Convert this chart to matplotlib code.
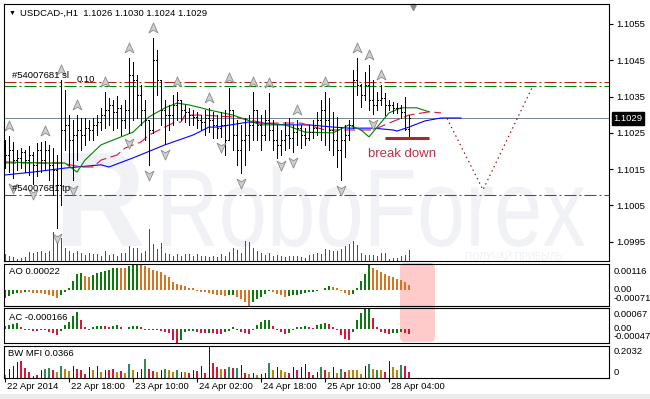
import numpy as np
import matplotlib
matplotlib.use('Agg')
import matplotlib.pyplot as plt
from matplotlib.patches import FancyBboxPatch, Rectangle, PathPatch
from matplotlib.path import Path
from matplotlib.textpath import TextPath
from matplotlib.font_manager import FontProperties
from matplotlib.transforms import Affine2D, IdentityTransform, offset_copy, blended_transform_factory

plt.rcParams['font.family'] = ['Liberation Sans', 'DejaVu Sans']

# ---- price bars (USDCAD H1) ----
first_open = 1.10200
highs = [
    1.10230, 1.10241, 1.10225, 1.10203, 1.10208, 1.10203, 1.10214, 1.10197, 1.10222, 1.10225,
    1.10228, 1.10217, 1.10208, 1.10189, 1.10396, 1.10368, 1.10299, 1.10286, 1.10299, 1.10291,
    1.10291, 1.10286, 1.10291, 1.10299, 1.10319, 1.10363, 1.10346, 1.10341, 1.10352, 1.10327,
    1.10341, 1.10456, 1.10445, 1.10410, 1.10382, 1.10341, 1.10286, 1.10511, 1.10478, 1.10396,
    1.10341, 1.10327, 1.10354, 1.10363, 1.10341, 1.10327, 1.10319, 1.10313, 1.10308, 1.10299,
    1.10313, 1.10319, 1.10308, 1.10299, 1.10308, 1.10313, 1.10374, 1.10313, 1.10286, 1.10272,
    1.10291, 1.10299, 1.10363, 1.10313, 1.10299, 1.10313, 1.10360, 1.10286, 1.10272, 1.10258,
    1.10280, 1.10291, 1.10272, 1.10286, 1.10272, 1.10263, 1.10272, 1.10286, 1.10308, 1.10341,
    1.10363, 1.10346, 1.10308, 1.10294, 1.10266, 1.10272, 1.10286, 1.10423, 1.10456, 1.10385,
    1.10418, 1.10437, 1.10396, 1.10363, 1.10382, 1.10360, 1.10341, 1.10335, 1.10332, 1.10327,
    1.10349, 1.10300]
lows = [
    1.10153, 1.10142, 1.10126, 1.10148, 1.10153, 1.10142, 1.10134, 1.10109, 1.10131, 1.10142,
    1.10148, 1.10120, 1.10079, 1.09988, 1.10051, 1.10203, 1.10162, 1.10120, 1.10175, 1.10203,
    1.10217, 1.10230, 1.10230, 1.10244, 1.10258, 1.10263, 1.10272, 1.10258, 1.10263, 1.10244,
    1.10263, 1.10250, 1.10286, 1.10291, 1.10272, 1.10230, 1.10162, 1.10250, 1.10354, 1.10272,
    1.10219, 1.10258, 1.10272, 1.10286, 1.10286, 1.10280, 1.10272, 1.10272, 1.10263, 1.10258,
    1.10244, 1.10252, 1.10236, 1.10236, 1.10239, 1.10189, 1.10230, 1.10203, 1.10162, 1.10140,
    1.10162, 1.10203, 1.10230, 1.10230, 1.10203, 1.10230, 1.10230, 1.10203, 1.10181, 1.10189,
    1.10203, 1.10208, 1.10197, 1.10217, 1.10208, 1.10217, 1.10230, 1.10236, 1.10244, 1.10230,
    1.10217, 1.10203, 1.10189, 1.10156, 1.10120, 1.10184, 1.10230, 1.10263, 1.10354, 1.10321,
    1.10341, 1.10313, 1.10302, 1.10313, 1.10327, 1.10299, 1.10313, 1.10305, 1.10305, 1.10291,
    1.10258, 1.10240]
closes = [
    1.10189, 1.10203, 1.10175, 1.10181, 1.10197, 1.10175, 1.10189, 1.10162, 1.10203, 1.10175,
    1.10203, 1.10162, 1.10148, 1.10106, 1.10258, 1.10272, 1.10230, 1.10244, 1.10258, 1.10244,
    1.10263, 1.10258, 1.10272, 1.10280, 1.10299, 1.10313, 1.10327, 1.10308, 1.10319, 1.10286,
    1.10313, 1.10410, 1.10396, 1.10354, 1.10313, 1.10286, 1.10258, 1.10451, 1.10396, 1.10313,
    1.10299, 1.10299, 1.10327, 1.10341, 1.10313, 1.10308, 1.10299, 1.10294, 1.10286, 1.10280,
    1.10291, 1.10286, 1.10272, 1.10263, 1.10272, 1.10230, 1.10313, 1.10244, 1.10203, 1.10230,
    1.10244, 1.10272, 1.10313, 1.10272, 1.10244, 1.10286, 1.10258, 1.10230, 1.10217, 1.10230,
    1.10244, 1.10236, 1.10252, 1.10263, 1.10244, 1.10236, 1.10252, 1.10263, 1.10286, 1.10313,
    1.10286, 1.10258, 1.10230, 1.10203, 1.10230, 1.10244, 1.10272, 1.10396, 1.10382, 1.10354,
    1.10382, 1.10341, 1.10327, 1.10341, 1.10346, 1.10327, 1.10327, 1.10319, 1.10319, 1.10308,
    1.10260, 1.10290]
volumes = [
    700, 500, 400, 200, 300, 400, 900, 800, 900, 1000,
    800, 1000, 2900, 1800, 2300, 1300, 1000, 800, 1000, 800,
    600, 800, 700, 700, 500, 1000, 600, 700, 500, 800,
    800, 1500, 1300, 1300, 800, 1000, 3200, 1700, 1200, 1800,
    800, 700, 500, 700, 500, 700, 700, 500, 700, 500,
    500, 400, 500, 400, 700, 500, 900, 1300, 1100, 800,
    2000, 1900, 1300, 1000, 800, 600, 800, 500, 600, 500,
    400, 500, 500, 500, 400, 300, 600, 700, 800, 700,
    1200, 1100, 1000, 1000, 1200, 1500, 1700, 2000, 1600, 800,
    600, 600, 600, 500, 800, 800, 200, 300, 300, 500,
    600, 1100]

# alligator lines (bar index, price)
lips_idx = [0, 9, 15, 18, 20, 24, 32, 36, 40, 43, 46, 49, 51, 57, 64, 70, 75, 82, 86, 89, 91, 96, 99, 103, 106]
lips_val = [1.10170, 1.10167, 1.10167, 1.10142, 1.10175, 1.10217, 1.10252, 1.10294, 1.10319, 1.10332,
            1.10327, 1.10319, 1.10313, 1.10299, 1.10272, 1.10272, 1.10252, 1.10250, 1.10272, 1.10258,
            1.10239, 1.10305, 1.10319, 1.10319, 1.10308]
teeth_idx = [0, 14, 19, 22, 24, 28, 30, 34, 36, 40, 42, 44, 45, 49, 57, 65, 74, 80, 86, 92, 96, 101, 106, 109]
teeth_val = [1.10167, 1.10167, 1.10156, 1.10156, 1.10175, 1.10189, 1.10208, 1.10225, 1.10244, 1.10266,
             1.10277, 1.10280, 1.10299, 1.10299, 1.10294, 1.10277, 1.10277, 1.10258, 1.10258, 1.10258,
             1.10277, 1.10299, 1.10308, 1.10305]
jaw_idx = [0, 7, 15, 24, 26, 32, 40, 47, 51, 53, 61, 70, 76, 82, 86, 92, 97, 98, 101, 105, 109, 114]
jaw_val = [1.10134, 1.10142, 1.10153, 1.10162, 1.10156, 1.10181, 1.10217, 1.10244, 1.10266, 1.10266,
           1.10280, 1.10272, 1.10272, 1.10266, 1.10263, 1.10263, 1.10258, 1.10255, 1.10266, 1.10283,
           1.10291, 1.10291]

fractal_up = [1, 10, 14, 18, 25, 31, 37, 43, 51, 56, 62, 66, 73, 80, 88, 91, 94]
fractal_down = [2, 7, 13, 17, 31, 36, 40, 54, 59, 69, 72, 84, 92]

sl_level = 1.10390
sell_level = 1.10380
tp_level = 1.10079
current_price = 1.1029
break_level = 1.10236
break_span = [95, 106]
proj_idx = [110.5, 119.5, 132]
proj_val = [1.10290, 1.10093, 1.10380]

# ---- indicators ----
ao = [
    -0.00037, -0.00028, -0.00019, -0.00014, -0.00015, -0.00009, -0.00012, -0.00014, -0.00015, -0.00016,
    -0.00019, -0.00023, -0.00028, -0.00037, -0.00023, -0.00009, 0.00009, 0.00037, 0.00070, 0.00075,
    0.00061, 0.00056, 0.00066, 0.00075, 0.00080, 0.00084, 0.00089, 0.00094, 0.00098, 0.00096,
    0.00094, 0.00103, 0.00112, 0.00116, 0.00108, 0.00103, 0.00098, 0.00089, 0.00084, 0.00080,
    0.00066, 0.00056, 0.00033, 0.00023, 0.00019, 0.00014, 0.00009, 0.00005, -0.00005, -0.00009,
    -0.00012, -0.00016, -0.00021, -0.00023, -0.00026, -0.00028, -0.00026, -0.00023, -0.00033, -0.00042,
    -0.00055, -0.00071, -0.00056, -0.00042, -0.00033, -0.00019, -0.00005, -0.00009, -0.00019, -0.00023,
    -0.00033, -0.00028, -0.00026, -0.00023, -0.00019, -0.00014, -0.00012, -0.00009, -0.00005, -0.00002,
    0.00009, 0.00014, 0.00012, 0.00009, -0.00005, -0.00014, -0.00023, -0.00019, 0.00005, 0.00037,
    0.00070, 0.00108, 0.00098, 0.00089, 0.00080, 0.00070, 0.00061, 0.00056, 0.00047, 0.00042,
    0.00033, 0.00022]
ac = [
    0.000077, 0.000116, 0.000154, 0.000193, 0.000039, -0.000039, -0.000046, -0.000077, -0.000085, -0.000039,
    -0.000058, -0.000116, -0.000154, -0.000231, -0.000077, 0.000116, 0.000231, 0.000424, 0.000539, 0.000270,
    0.000039, -0.000039, 0.000039, 0.000077, 0.000096, 0.000077, 0.000058, 0.000077, 0.000116, 0.000039,
    -0.000019, 0.000039, 0.000077, 0.000096, 0.000039, -0.000039, -0.000058, -0.000039, -0.000050, -0.000077,
    -0.000116, -0.000154, -0.000385, -0.000470, -0.000385, -0.000116, -0.000077, -0.000069, -0.000116, -0.000154,
    -0.000162, -0.000135, -0.000154, -0.000173, -0.000193, -0.000116, -0.000077, 0.000039, -0.000039, -0.000116,
    -0.000154, -0.000193, -0.000039, 0.000116, 0.000231, 0.000270, 0.000289, 0.000077, -0.000039, -0.000116,
    -0.000193, -0.000154, -0.000039, 0.000039, 0.000058, 0.000077, 0.000039, 0.000019, 0.000116, 0.000154,
    0.000193, 0.000154, 0.000039, -0.000039, -0.000231, -0.000347, -0.000385, -0.000116, 0.000270, 0.000501,
    0.000655, 0.000670, 0.000347, 0.000039, -0.000116, -0.000154, -0.000193, -0.000154, -0.000135, -0.000116,
    -0.000154, -0.000166]
mfi = [
    0.0187, 0.0561, 0.0748, 0.0997, 0.1059, 0.0623, 0.0374, 0.0125, 0.0187, 0.0498,
    0.0561, 0.0623, 0.0498, 0.0374, 0.0748, 0.0561, 0.0436, 0.0748, 0.0561, 0.0498,
    0.0249, 0.0685, 0.0498, 0.0748, 0.0374, 0.0498, 0.0498, 0.0561, 0.0374, 0.0436,
    0.0312, 0.0872, 0.0498, 0.0374, 0.0561, 0.1184, 0.0561, 0.0436, 0.0374, 0.0498,
    0.0561, 0.0498, 0.0374, 0.0498, 0.0374, 0.0374, 0.0312, 0.0498, 0.0436, 0.0748,
    0.0312, 0.2032, 0.0935, 0.0685, 0.0561, 0.0561, 0.0685, 0.0623, 0.0623, 0.0810,
    0.0312, 0.0249, 0.0312, 0.0187, 0.0249, 0.0312, 0.0935, 0.0498, 0.0685, 0.0498,
    0.0374, 0.0312, 0.0685, 0.0498, 0.0685, 0.0872, 0.0374, 0.0187, 0.0374, 0.0685,
    0.0498, 0.0374, 0.0685, 0.0312, 0.0561, 0.0374, 0.0498, 0.0498, 0.0498, 0.0249,
    0.0748, 0.0872, 0.0561, 0.0498, 0.0498, 0.0374, 0.1059, 0.0685, 0.0498, 0.0810,
    0.0748, 0.0366]
mfi_state = ("nbbbcccbcb" "ggcygyybcc" "cbybybccyc" "ygybbgccyb" "gyygbycbcb"
             "cbccycgcgb" "cybybbgyby" "ycbcbbccbg" "cybygcyyyy" "bgygycbyyg" "cc")

time_ticks = [0, 16, 32, 48, 64, 80, 96]
time_labels = ['22 Apr 2014', '22 Apr 18:00', '23 Apr 10:00', '24 Apr 02:00',
               '24 Apr 18:00', '25 Apr 10:00', '28 Apr 04:00']
price_ticks = [1.0995, 1.1005, 1.1015, 1.1025, 1.1035, 1.1045, 1.1055]

W, H = 650, 399
FS = 6.8
LW = 0.72  # one pixel


def fbox(x0, y0, x1, y1):
    return [x0 / W, 1 - y1 / H, (x1 - x0) / W, (y1 - y0) / H]


def ptext(x, y, s, **kw):
    kw.setdefault('fontsize', FS)
    fig.text(x / W, 1 - y / H, s, va='center', ha='left', **kw)


def style_axes(a):
    a.set_facecolor('none')
    a.set_xlim(-0.25, 151)
    a.set_xticks([])
    for sp in a.spines.values():
        sp.set_linewidth(0.8)
        sp.set_color('black')


fig = plt.figure(figsize=(6.5, 3.99), dpi=100)
fig.patch.set_facecolor('white')

ax = fig.add_axes(fbox(4, 4, 609, 261))
ax_ao = fig.add_axes(fbox(4, 263.5, 609, 305.5))
ax_ac = fig.add_axes(fbox(4, 308.3, 609, 342.7))
ax_mfi = fig.add_axes(fbox(4, 345.7, 609, 378.3))
for a in (ax, ax_ao, ax_ac, ax_mfi):
    style_axes(a)

# watermark (logo block + name)
def watermark(text, box, weight):
    tp = TextPath((0, 0), text, size=50, prop=FontProperties(family='Liberation Sans', weight=weight))
    bb = tp.get_extents()
    x0, y0, x1, y1 = box
    tr = (Affine2D().translate(-bb.x0, -bb.y0)
          .scale((x1 - x0) / bb.width, (y1 - y0) / bb.height)
          .translate(x0, H - y1))
    p = PathPatch(tr.transform_path(tp), fc='#f0f2f6', ec='none',
                  transform=IdentityTransform(), zorder=-2)
    p.set_clip_box(ax.bbox)
    fig.add_artist(p)

watermark('R', (63, 153, 143, 246), 'bold')
watermark('RoboForex', (163, 166, 585, 247), 'normal')
fig.text(465 / W, 1 - 257 / H, 'ПОЛУЧАЙ ПРИБЫЛЬ', fontsize=7, color='#eef0f4',
         va='center', zorder=-2)

# pink highlight box
fig.add_artist(FancyBboxPatch((400, H - 342), 35, 79, boxstyle='round,pad=0,rounding_size=5',
                              fc='#ffcaca', ec='none', transform=IdentityTransform(), zorder=-1))

idx = np.arange(len(closes))
opens = [first_open] + closes[:-1]

# volume
axv = ax.twinx()
axv.set_ylim(0, 25700)
axv.set_axis_off()
axv.vlines(idx, 0, volumes, color='#107a10', lw=LW, antialiased=False)

# price
ax.set_ylim(1.09897, 1.10605)
ax.axhline(current_price, color='#778899', lw=LW, zorder=1)
dd = (0, (11.5, 2.9, 1.9, 2.9))
ax.axhline(sl_level, color='#b22222', lw=0.75, ls=dd, zorder=1)
ax.axhline(sell_level, color='#008000', lw=0.75, ls=dd, zorder=1)
ax.axhline(tp_level, color='#b22222', lw=0.75, ls=dd, zorder=1)

ax.plot(jaw_idx, jaw_val, color='#0000ff', lw=0.8, zorder=2)
ax.plot(teeth_idx, teeth_val, color='#dc143c', lw=0.8, ls=(0, (10, 4)), zorder=2)
ax.plot(lips_idx, lips_val, color='#008000', lw=0.8, zorder=2)

ax.vlines(idx, lows, highs, color='black', lw=LW, antialiased=False, zorder=3)
ax.hlines(opens, idx - 0.3, idx, color='black', lw=LW, antialiased=False, zorder=3)
ax.hlines(closes, idx, idx + 0.3, color='black', lw=LW, antialiased=False, zorder=3)

arrow = Path([(0, 1), (0.8, -0.8), (0, -0.3), (-0.8, -0.8), (0, 1)],
             [Path.MOVETO, Path.LINETO, Path.LINETO, Path.LINETO, Path.CLOSEPOLY])
arrow_dn = arrow.transformed(Affine2D().scale(1, -1))
up_tr = offset_copy(ax.transData, fig=fig, y=7, units='points')
dn_tr = offset_copy(ax.transData, fig=fig, y=-7, units='points')
ax.plot(fractal_up, [highs[i] for i in fractal_up], ls='none', marker=arrow, ms=8,
        mfc='#cfcfcf', mec='#8a8a8a', mew=0.6, transform=up_tr, zorder=4)
ax.plot(fractal_down, [lows[i] for i in fractal_down], ls='none', marker=arrow_dn, ms=8,
        mfc='#cfcfcf', mec='#8a8a8a', mew=0.6, transform=dn_tr, zorder=4)

ax.hlines(break_level, break_span[0], break_span[1], color='#a52a2a', lw=2.2, zorder=3)
ax.text(90.8, 1.10192, 'break down', color='#b8334a', fontsize=9.5, va='center', ha='left')
ax.plot(proj_idx, proj_val, color='#8b0000', lw=0.8, ls=(0, (1.3, 3)), zorder=2)

ax.plot([102], [0.988], transform=blended_transform_factory(ax.transData, ax.transAxes),
        marker='v', ms=5, color='#8c8c8c', clip_on=False)

ax.yaxis.tick_right()
ax.set_yticks(price_ticks, labels=['%.4f' % p for p in price_ticks])
ax.tick_params(axis='y', direction='out', length=3, width=0.8, pad=2, labelsize=FS)
ax.annotate('%.4f' % current_price, xy=(1, current_price), xycoords=('axes fraction', 'data'),
            xytext=(3.2, 0), textcoords='offset points', va='center', ha='left',
            fontsize=FS, color='white',
            bbox=dict(boxstyle='square,pad=0.2', fc='black', ec='black'))

# AO
ao_col = ['#0a7a0a' if i == 0 or ao[i] > ao[i - 1] else '#d8731f' for i in range(len(ao))]
ax_ao.bar(idx, ao, width=0.72, color=ao_col, linewidth=0, antialiased=False)
ax_ao.set_ylim(-0.00071, 0.00116)
ax_ao.set_yticks([])

# AC
ac_col = ['#0a7a0a' if i == 0 or ac[i] > ac[i - 1] else '#dc143c' for i in range(len(ac))]
ax_ac.bar(idx, ac, width=0.72, color=ac_col, linewidth=0, antialiased=False)
ax_ac.set_ylim(-0.00047, 0.00067)
ax_ac.set_yticks([])

# BW MFI
mfi_colors = {'c': '#dc143c', 'g': '#2e8b57', 'y': '#b8860b', 'b': '#0000ff', 'n': '#808080'}
ax_mfi.bar(idx, mfi, width=[0.25 if s == 'b' else 0.72 for s in mfi_state],
           color=[mfi_colors[s] for s in mfi_state], linewidth=0, antialiased=False)
ax_mfi.set_ylim(0, 0.2032)
ax_mfi.set_yticks([])
ax_mfi.set_xticks(time_ticks, labels=[])
ax_mfi.tick_params(axis='x', direction='out', length=3, width=0.8)
for tk, lb in zip(time_ticks, time_labels):
    ax_mfi.annotate(lb, xy=(tk, 0), xycoords=('data', 'axes fraction'), xytext=(1.2, -2.5),
                    textcoords='offset points', ha='left', va='top', fontsize=FS)

# right-side labels of the indicator windows
for a, vals in ((ax_ao, [(0.00116, '0.00116', -6.0), (0, '0.00', 0), (-0.00071, '-0.00071', 4.7)]),
                (ax_ac, [(0.00067, '0.00067', -4.8), (0, '0.00', 0), (-0.00047, '-0.00047', 4.8)]),
                (ax_mfi, [(0.2032, '0.2032', -4.5), (0, '0', 4.5)])):
    for v, s, dy in vals:
        a.annotate(s, xy=(1, v), xycoords=('axes fraction', 'data'), xytext=(3.5, dy),
                   textcoords='offset points', va='center', ha='left', fontsize=FS)

# header & labels
ptext(9, 13, '\u25bc', fontsize=5)
ptext(20, 13, 'USDCAD-,H1  1.1026 1.1030 1.1024 1.1029')
ptext(12, 76, '#54007681 sl')
ptext(77, 80, '0.10')
ptext(12, 189, '#54007681 tp')
ptext(9, 272, 'AO 0.00022')
ptext(9, 318, 'AC -0.000166')
ptext(8, 354, 'BW MFI 0.0366')

fig.add_artist(Rectangle((0, 0), 1, 5 / H, transform=fig.transFigure, fc='#ececec', ec='none'))

fig.savefig('out.png', dpi=100, facecolor='white')
